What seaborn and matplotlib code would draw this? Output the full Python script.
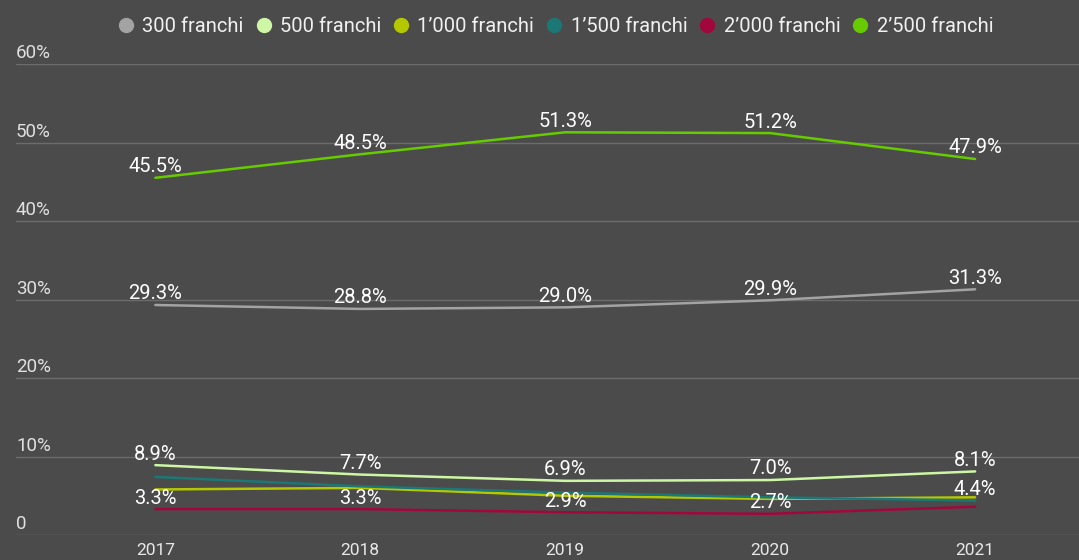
import numpy as np
import pandas as pd
import matplotlib
matplotlib.use("Agg")
import matplotlib.pyplot as plt
from matplotlib.lines import Line2D
import seaborn as sns

years = [2017, 2018, 2019, 2020, 2021]
series_names = ["300 franchi", "500 franchi", "1’000 franchi", "1’500 franchi", "2’000 franchi", "2’500 franchi"]
v300 = [29.3, 28.8, 29.0, 29.9, 31.3]
v500 = [8.9, 7.7, 6.9, 7.0, 8.1]
v1000 = [5.8, 6.0, 5.0, 4.6, 4.8]
v1500 = [7.4, 6.2, 5.4, 4.8, 4.4]
v2000 = [3.3, 3.3, 2.9, 2.7, 3.6]
v2500 = [45.5, 48.5, 51.3, 51.2, 47.9]
labels_2000 = [3.3, 3.3, 2.9, 2.7, 4.4]
yticks = [0, 10, 20, 30, 40, 50, 60]
ytick_labels = ["0", "10%", "20%", "30%", "40%", "50%", "60%"]
colors = ["#a3a3a3", "#cdf7a4", "#b4c800", "#1b7877", "#a1073d", "#66cc00"]

values = [v300, v500, v1000, v1500, v2000, v2500]
df = pd.DataFrame({
    "year": np.tile(years, len(series_names)),
    "value": np.concatenate(values),
    "series": np.repeat(series_names, len(years)),
})

sns.set_theme(style="dark")
plt.rcParams["font.family"] = ["Roboto", "DejaVu Sans"]
bg = "#4b4b4b"

fig = plt.figure(figsize=(10.79, 5.6), dpi=100, facecolor=bg)
ax = fig.add_axes([16 / 1079, 25 / 560, 1 - 16 / 1079, (535 - 64) / 560])
ax.set_facecolor(bg)

sns.lineplot(data=df, x="year", y="value", hue="series", hue_order=series_names,
             palette=dict(zip(series_names, colors)), linewidth=1.8, ax=ax, legend=False)

ax.set_xlim(2016.32, 2021.507)
ax.set_ylim(0, 60)
ax.set_xticks(years)
ax.set_xticklabels([str(y) for y in years], color="#e8e8e8", fontsize=12.5)
ax.tick_params(axis="x", length=0, pad=6)
ax.set_yticks(yticks)
ax.set_yticklabels([])
ax.tick_params(axis="y", length=0)
ax.grid(axis="y", color="#6c6c6c", linewidth=1)
ax.grid(axis="x", visible=False)
ax.set_xlabel("")
ax.set_ylabel("")
for s in ax.spines.values():
    s.set_visible(False)

for t, lab in zip(yticks, ytick_labels):
    ax.annotate(lab, (0, t), xycoords=ax.get_yaxis_transform(), xytext=(0, 4),
                textcoords="offset points", ha="left", va="baseline",
                color="#e0e0e0", fontsize=13.5, annotation_clip=False)

def label_series(vals, shown):
    for x, v, s in zip(years, vals, shown):
        ax.annotate(f"{s:.1f}%", (x, v), xytext=(0, 4), textcoords="offset points",
                    ha="center", va="baseline", color="white", fontsize=14.5)

label_series(v2500, v2500)
label_series(v300, v300)
label_series(v500, v500)
label_series(labels_2000, labels_2000)

handles = [Line2D([0], [0], marker="o", linestyle="", markersize=10, markerfacecolor=c,
                  markeredgecolor=c) for c in colors]
leg = fig.legend(handles, series_names, loc="center", bbox_to_anchor=(0.514, 1 - 27 / 560),
                 ncol=6, frameon=False, handletextpad=0.3, columnspacing=0.5,
                 fontsize=14.5, labelcolor="#f0f0f0", handlelength=1.0)

fig.savefig("out.png", dpi=100, facecolor=bg)
